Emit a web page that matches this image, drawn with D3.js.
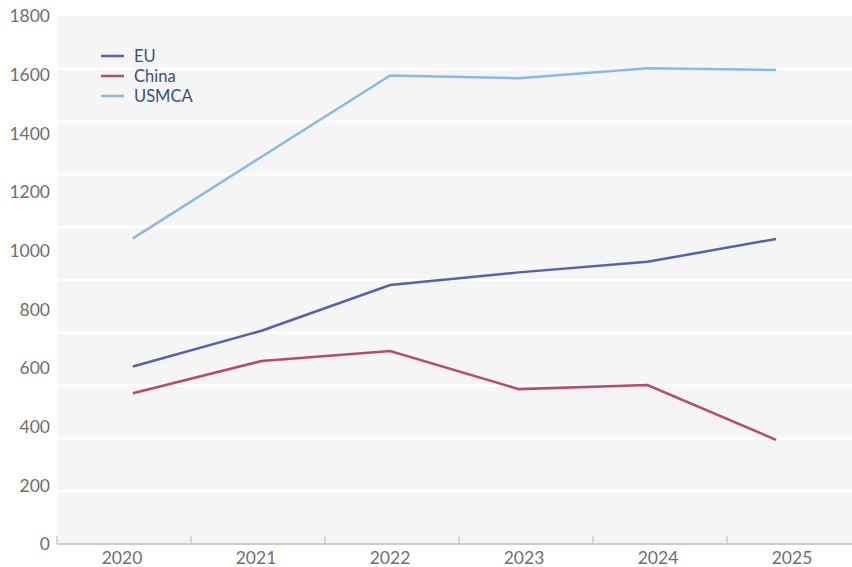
<!DOCTYPE html>
<html>
<head>
<meta charset="utf-8">
<script src="https://cdn.jsdelivr.net/npm/d3@7"></script>
<style>
  body { margin: 0; background: #fff; }
  text { font-family: Lato, "Open Sans", sans-serif; }
</style>
</head>
<body>
<svg id="chart" width="852" height="567"></svg>
<script>
var years = ["2020", "2021", "2022", "2023", "2024", "2025"];
var eu = [605, 727, 883, 926, 962, 1040];
var china = [514, 624, 658, 528, 542, 355];
var usmca = [1042, 1320, 1597, 1588, 1622, 1616];
var seriesNames = ["EU", "China", "USMCA"];
var seriesColors = ["#5661ad", "#b84a6f", "#8ab9e6"];
var yTicks = [0, 200, 400, 600, 800, 1000, 1200, 1400, 1600, 1800];

var series = [eu, china, usmca];

var svg = d3.select("#chart");
var plotLeft = 57, plotRight = 852, plotTop = 16, plotBottom = 544;

var y = d3.scaleLinear().domain([0, 1800]).range([plotBottom, plotTop]);
// labels sit in bands, line points are spread on a point scale
var xBand = d3.scaleBand().domain(years).range([plotLeft, plotLeft + 6 * 134]);
var xPoint = d3.scalePoint().domain(years).range([plotLeft, plotRight]).padding(0.59);

svg.append("rect")
    .attr("x", plotLeft).attr("y", plotTop)
    .attr("width", plotRight - plotLeft).attr("height", plotBottom - plotTop)
    .attr("fill", "#f5f5f5");

// grid: ten equal rows
svg.append("g").selectAll("line")
    .data(d3.range(1, 10).map(function (i) { return i * 180; }))
    .enter().append("line")
    .attr("x1", plotLeft).attr("x2", plotRight)
    .attr("y1", function (d) { return y(d); })
    .attr("y2", function (d) { return y(d); })
    .attr("stroke", "#ffffff")
    .attr("stroke-width", 2);

// y labels
svg.append("g").selectAll("text")
    .data(yTicks)
    .enter().append("text")
    .attr("x", 50)
    .attr("y", function (d) { return y(d); })
    .attr("dy", "0.36em")
    .attr("text-anchor", "end")
    .attr("font-size", 17.5)
    .attr("fill", "#6f6f6f")
    .text(function (d) { return d; });

// x axis
svg.append("line")
    .attr("x1", plotLeft).attr("x2", plotRight)
    .attr("y1", plotBottom).attr("y2", plotBottom)
    .attr("stroke", "#cccccc")
    .attr("stroke-width", 2);

svg.append("g").selectAll("line")
    .data(years)
    .enter().append("line")
    .attr("x1", function (d) { return xBand(d); })
    .attr("x2", function (d) { return xBand(d); })
    .attr("y1", plotBottom - 8).attr("y2", plotBottom)
    .attr("stroke", "#cccccc")
    .attr("stroke-width", 1.5);

svg.append("g").selectAll("text")
    .data(years)
    .enter().append("text")
    .attr("x", function (d) { return xBand(d) + xBand.bandwidth() / 2 - 2; })
    .attr("y", 564)
    .attr("text-anchor", "middle")
    .attr("font-size", 17.5)
    .attr("fill", "#6f6f6f")
    .text(function (d) { return d; });

// lines
var line = d3.line()
    .x(function (d, i) { return xPoint(years[i]); })
    .y(function (d) { return y(d); });

svg.append("g").selectAll("path")
    .data(series)
    .enter().append("path")
    .attr("d", line)
    .attr("fill", "none")
    .attr("stroke", function (d, i) { return seriesColors[i]; })
    .attr("stroke-width", 2.5);

// legend
var legend = svg.append("g").selectAll("g")
    .data(seriesNames)
    .enter().append("g")
    .attr("transform", function (d, i) { return "translate(101," + (56 + i * 20) + ")"; });

legend.append("line")
    .attr("x1", 0).attr("x2", 23)
    .attr("stroke", function (d, i) { return seriesColors[i]; })
    .attr("stroke-width", 2.5);

legend.append("text")
    .attr("x", 33)
    .attr("dy", "0.36em")
    .attr("font-size", 16.5)
    .attr("fill", "#3b4e7e")
    .text(function (d) { return d; });
</script>
</body>
</html>
